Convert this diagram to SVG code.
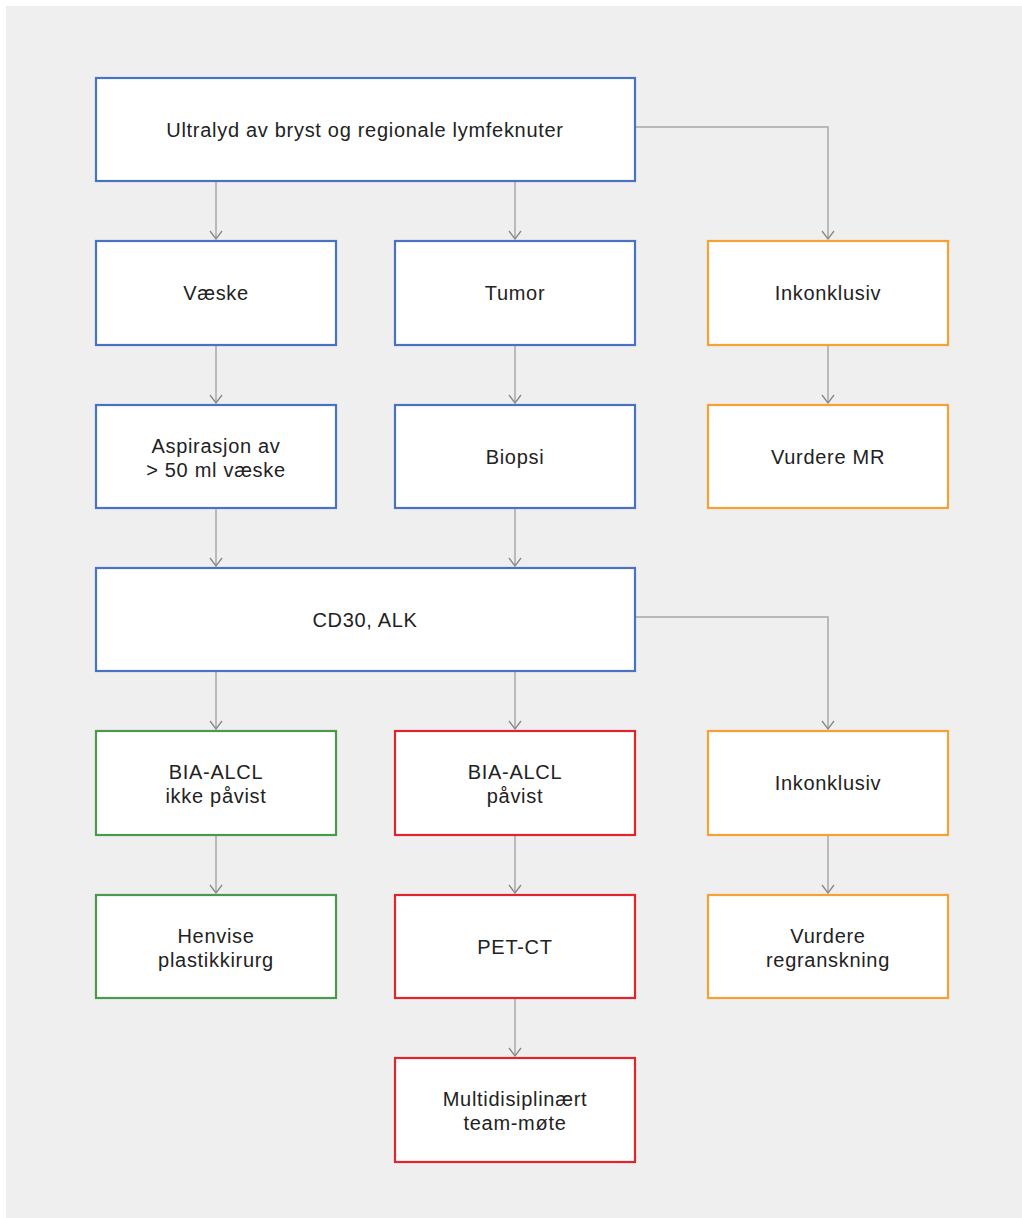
<svg xmlns="http://www.w3.org/2000/svg" width="1022" height="1218" viewBox="0 0 1022 1218">
<style>
.box{fill:#ffffff;stroke-width:2.2}
.blue{stroke:#4a72c4}
.orange{stroke:#f7a033}
.green{stroke:#4a9a4e}
.red{stroke:#e0262c}
.t{font-family:"Liberation Sans",Arial,sans-serif;font-size:20px;letter-spacing:0.7px;fill:#222222;text-anchor:middle}
.c{fill:none;stroke:#a8a8a8;stroke-width:1.5}
</style>
<defs>
<marker id="arr" viewBox="0 0 10 14" refX="9" refY="7" markerWidth="10" markerHeight="14" markerUnits="userSpaceOnUse" orient="auto">
<path d="M1,1 L9,7 L1,13" fill="none" stroke="#888888" stroke-width="1.3"/>
</marker>
</defs>
<rect x="6" y="6" width="1016" height="1212" fill="#efefef"/>
<g id="connectors">
<path class="c" d="M216,181 V239" marker-end="url(#arr)"/>
<path class="c" d="M515,181 V239" marker-end="url(#arr)"/>
<path class="c" d="M635,127 H828 V239" marker-end="url(#arr)"/>
<path class="c" d="M216,345 V403" marker-end="url(#arr)"/>
<path class="c" d="M515,345 V403" marker-end="url(#arr)"/>
<path class="c" d="M828,345 V403" marker-end="url(#arr)"/>
<path class="c" d="M216,508 V566" marker-end="url(#arr)"/>
<path class="c" d="M515,508 V566" marker-end="url(#arr)"/>
<path class="c" d="M216,671 V729" marker-end="url(#arr)"/>
<path class="c" d="M515,671 V729" marker-end="url(#arr)"/>
<path class="c" d="M635,617 H828 V729" marker-end="url(#arr)"/>
<path class="c" d="M216,835 V893" marker-end="url(#arr)"/>
<path class="c" d="M515,835 V893" marker-end="url(#arr)"/>
<path class="c" d="M828,835 V893" marker-end="url(#arr)"/>
<path class="c" d="M515,998 V1056" marker-end="url(#arr)"/>
</g>
<g id="ultralyd"><rect class="box blue" x="96" y="78" width="539" height="103"/><text class="t" x="365" y="137">Ultralyd av bryst og regionale lymfeknuter</text></g>
<g id="vaeske"><rect class="box blue" x="96" y="241" width="240" height="104"/><text class="t" x="216" y="300">Væske</text></g>
<g id="tumor"><rect class="box blue" x="395" y="241" width="240" height="104"/><text class="t" x="515" y="300">Tumor</text></g>
<g id="inkonklusiv1"><rect class="box orange" x="708" y="241" width="240" height="104"/><text class="t" x="828" y="300">Inkonklusiv</text></g>
<g id="aspirasjon"><rect class="box blue" x="96" y="405" width="240" height="103"/><text class="t" x="216" y="453">Aspirasjon av</text><text class="t" x="216" y="477">&gt; 50 ml væske</text></g>
<g id="biopsi"><rect class="box blue" x="395" y="405" width="240" height="103"/><text class="t" x="515" y="464">Biopsi</text></g>
<g id="vurdere-mr"><rect class="box orange" x="708" y="405" width="240" height="103"/><text class="t" x="828" y="464">Vurdere MR</text></g>
<g id="cd30"><rect class="box blue" x="96" y="568" width="539" height="103"/><text class="t" x="365" y="627">CD30, ALK</text></g>
<g id="ikke-pavist"><rect class="box green" x="96" y="731" width="240" height="104"/><text class="t" x="216" y="779">BIA-ALCL</text><text class="t" x="216" y="803">ikke påvist</text></g>
<g id="pavist"><rect class="box red" x="395" y="731" width="240" height="104"/><text class="t" x="515" y="779">BIA-ALCL</text><text class="t" x="515" y="803">påvist</text></g>
<g id="inkonklusiv2"><rect class="box orange" x="708" y="731" width="240" height="104"/><text class="t" x="828" y="790">Inkonklusiv</text></g>
<g id="henvise"><rect class="box green" x="96" y="895" width="240" height="103"/><text class="t" x="216" y="943">Henvise</text><text class="t" x="216" y="967">plastikkirurg</text></g>
<g id="pet-ct"><rect class="box red" x="395" y="895" width="240" height="103"/><text class="t" x="515" y="954">PET-CT</text></g>
<g id="regranskning"><rect class="box orange" x="708" y="895" width="240" height="103"/><text class="t" x="828" y="943">Vurdere</text><text class="t" x="828" y="967">regranskning</text></g>
<g id="mdt"><rect class="box red" x="395" y="1058" width="240" height="104"/><text class="t" x="515" y="1106">Multidisiplinært</text><text class="t" x="515" y="1130">team-møte</text></g>
</svg>
